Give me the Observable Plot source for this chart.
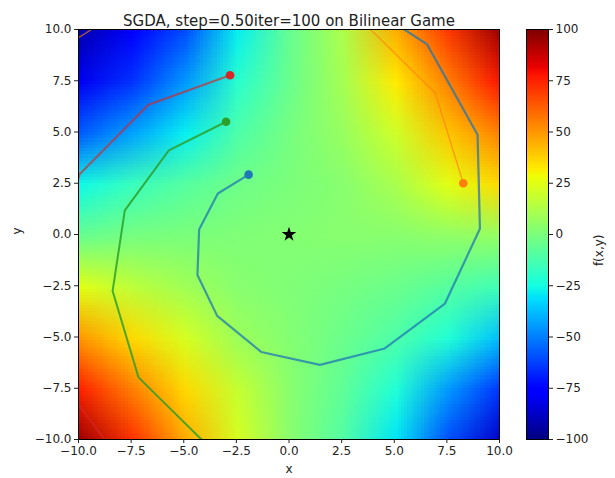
<!DOCTYPE html>
<html><head><meta charset="utf-8">
<script src="https://cdn.jsdelivr.net/npm/d3@7"></script>
<script src="https://cdn.jsdelivr.net/npm/@observablehq/plot@0.6"></script>
<style>
html,body{margin:0;padding:0;background:#fff;}
#chart{position:relative;width:615px;height:478px;}
#chart svg{position:absolute;top:0;}
</style></head><body><div id="chart"></div>
<script>
// ---- data ----
const title = "SGDA, step=0.50iter=100 on Bilinear Game";
const xTicks = [-10, -7.5, -5, -2.5, 0, 2.5, 5, 7.5, 10];
const yTicks = [-10, -7.5, -5, -2.5, 0, 2.5, 5, 7.5, 10];
const cbTicks = [-100, -75, -50, -25, 0, 25, 50, 75, 100];
// f(x,y) samples on grid x = -10..10 (step 2.5), rows from y = 10 down to y = -10
const rowY10  = [-92, -78, -60, -28, -5, 12, 45, 70, 95];
const rowY7_5 = [-80, -65, -45, -20, -4, 10, 32, 55, 78];
const rowY5   = [-57, -43, -28, -11, -1, 7, 20, 40, 55];
const rowY2_5 = [-26, -16, -9, -3, 0, 3, 11, 25, 36];
const rowY0   = [-5, -1, 0, 1, 2, 3, 3, 5, 6];
const rowYm2_5= [25, 16, 9, 3, 1, -1, -4, -9, -15];
const rowYm5  = [50, 36, 22, 8, 2, -4, -11, -22, -38];
const rowYm7_5= [75, 55, 36, 18, 3, -7, -22, -45, -65];
const rowYm10 = [95, 72, 46, 22, 3, -10, -30, -60, -88];
// trajectories [x, y]
const trajBlue = [[-1.92,2.92],[-3.38,2.0],[-4.27,0.24],[-4.35,-1.98],[-3.41,-3.97],[-1.32,-5.73],[1.47,-6.36],[4.55,-5.56],[7.41,-3.37],[9.07,0.28],[8.96,4.87],[6.55,9.29],[2.0,12.3]];
const trajOrange = [[8.28,2.5],[6.95,6.9],[1.0,12.9],[-7.4,11.3],[-13.05,7.6]];
const trajGreen = [[-2.99,5.5],[-5.71,4.1],[-7.8,1.18],[-8.38,-2.76],[-7.15,-6.97],[-1.0,-13.2]];
const trajRed = [[-2.8,7.77],[-6.68,6.33],[-9.94,2.95],[-11.44,-1.93],[-10.47,-7.66],[-6.63,-12.9]];
const optimum = [[0, 0]];

// ---- jet colormap ----
const jetR = [[0,0],[0.35,0],[0.66,1],[0.89,1],[1,0.5]];
const jetG = [[0,0],[0.125,0],[0.375,1],[0.64,1],[0.91,0],[1,0]];
const jetB = [[0,0.5],[0.11,1],[0.34,1],[0.65,0],[1,0]];
const ch = pts => d3.scaleLinear().domain(pts.map(p => p[0])).range(pts.map(p => p[1])).clamp(true);
const cR = ch(jetR), cG = ch(jetG), cB = ch(jetB);
const jet = t => d3.rgb(cR(t) * 255, cG(t) * 255, cB(t) * 255).formatRgb();
const colorOpts = {type: "linear", domain: [-100, 100], interpolate: jet, clamp: true};

const fValues = [rowY10, rowY7_5, rowY5, rowY2_5, rowY0, rowYm2_5, rowYm5, rowYm7_5, rowYm10].flat();
const font = {fontFamily: "DejaVu Sans", fontSize: "12px", color: "#222", background: "transparent"};

const series = [
  {data: trajBlue, color: "#1f77b4", w: 2.2, o: 0.75},
  {data: trajOrange, color: "#ff7f0e", w: 1.3, o: 0.7},
  {data: trajGreen, color: "#2ca02c", w: 2, o: 0.85},
  {data: trajRed, color: "#d62728", w: 2, o: 0.65}
];
const trajMarks = [];
for (const s of series) {
  trajMarks.push(Plot.line(s.data, {x: d => d[0], y: d => d[1], stroke: s.color, strokeWidth: s.w, strokeOpacity: s.o, clip: true}));
  trajMarks.push(Plot.dot([s.data[0]], {x: d => d[0], y: d => d[1], r: 4.3, fill: s.color, stroke: "none"}));
}

const main = Plot.plot({
  width: 615, height: 478,
  marginLeft: 78, marginRight: 116, marginTop: 29, marginBottom: 39,
  style: font,
  x: {domain: [-10, 10]},
  y: {domain: [-10, 10]},
  color: colorOpts,
  marks: [
    Plot.raster(fValues, {width: 9, height: 9, x1: -11.25, x2: 11.25, y1: 11.25, y2: -11.25, fill: Plot.identity, clip: true, imageRendering: "auto"}),
    ...trajMarks,
    Plot.dot(optimum, {x: d => d[0], y: d => d[1], symbol: "star", r: 4.6, fill: "black", stroke: "none"}),
    Plot.frame({stroke: "black", strokeWidth: 1}),
    Plot.axisX({ticks: xTicks, tickFormat: d3.format(".1f"), tickSize: 4, tickPadding: 3, label: null}),
    Plot.axisY({ticks: yTicks, tickFormat: d3.format(".1f"), tickSize: 4, tickPadding: 3, label: null}),
    Plot.text([title], {text: d => d, frameAnchor: "top", dy: -14, fontSize: 15}),
    Plot.text(["x"], {text: d => d, frameAnchor: "bottom", dy: 33}),
    Plot.text(["y"], {text: d => d, frameAnchor: "left", dx: -61, rotate: -90})
  ]
});

const cb = Plot.plot({
  width: 89, height: 478,
  marginLeft: 0, marginRight: 67, marginTop: 29, marginBottom: 39,
  style: font,
  x: {domain: [0, 1], axis: null},
  y: {domain: [-100, 100]},
  color: colorOpts,
  marks: [
    Plot.raster({x1: 0, x2: 1, y1: -100, y2: 100, width: 1, height: 256, fill: (x, y) => y}),
    Plot.frame({stroke: "black", strokeWidth: 1}),
    Plot.axisY({anchor: "right", ticks: cbTicks, tickFormat: d3.format("d"), tickSize: 4, tickPadding: 3, label: null}),
    Plot.text(["f(x,y)"], {text: d => d, frameAnchor: "right", dx: 51, rotate: -90})
  ]
});
main.style.left = "0px";
cb.style.left = "526px";
document.getElementById("chart").append(main, cb);
</script></body></html>
